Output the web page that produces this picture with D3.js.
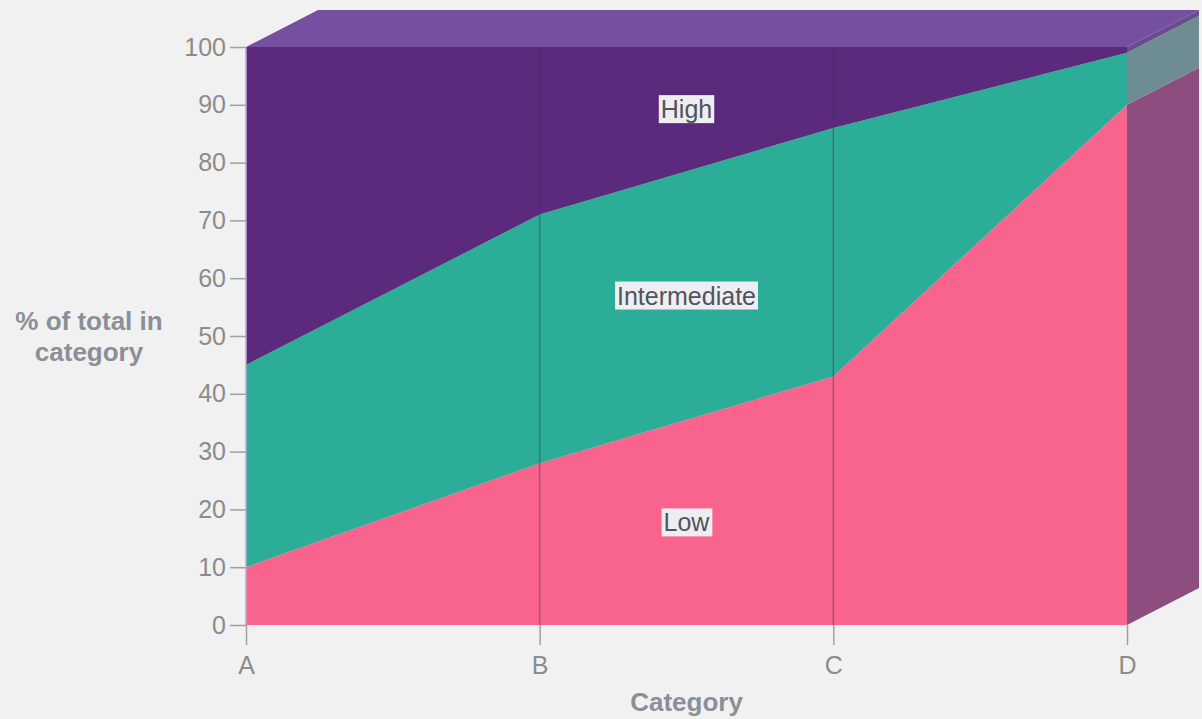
<!DOCTYPE html>
<html>
<head>
<meta charset="utf-8">
<script src="https://cdn.jsdelivr.net/npm/d3@7"></script>
<style>
  body { margin: 0; background: #f1f1f1; }
  svg { display: block; }
  text { font-family: "Liberation Sans", Arial, sans-serif; }
</style>
</head>
<body>
<svg id="chart" width="1202" height="719"></svg>
<script>
// Share of total in each category, stacked to 100%
const categories = ["A", "B", "C", "D"];
const seriesNames = ["Low", "Intermediate", "High"];
const low = [10, 28, 43, 90];
const intermediate = [35, 43, 43, 9];
const high = [55, 29, 14, 1];
const yTicks = [0, 10, 20, 30, 40, 50, 60, 70, 80, 90, 100];

const frontColor = { Low: "#f9648e", Intermediate: "#2bad97", High: "#5b2a7c" };
const sideColor = { Low: "#8e4d7f", Intermediate: "#6e8d93", High: "#6a4d8c" };
const topColor = "#7650a0";

const rows = categories.map((c, i) => ({
  category: c, Low: low[i], Intermediate: intermediate[i], High: high[i]
}));
const stacked = d3.stack().keys(seriesNames)(rows);

const svg = d3.select("#chart");
const x = d3.scalePoint().domain(categories).range([246, 1127]);
const y = d3.scaleLinear().domain([0, 100]).range([625, 47]);
const dx = 72, dy = -37; // depth offset of the 3D box

const xFirst = x(categories[0]), xLast = x(categories[categories.length - 1]);

// top face of the box
svg.append("polygon")
  .attr("points", [
    [xFirst, y(100)], [xLast, y(100)], [xLast + dx, y(100) + dy], [xFirst + dx, y(100) + dy]
  ].map(p => p.join(",")).join(" "))
  .attr("fill", topColor);

// right end face, one band per series
const lastIdx = categories.length - 1;
svg.append("g").selectAll("polygon")
  .data(stacked)
  .join("polygon")
  .attr("points", s => {
    const d = s[lastIdx];
    return [
      [xLast, y(d[0])], [xLast, y(d[1])], [xLast + dx, y(d[1]) + dy], [xLast + dx, y(d[0]) + dy]
    ].map(p => p.join(",")).join(" ");
  })
  .attr("fill", s => sideColor[s.key]);

// front stacked areas
const area = d3.area()
  .x(d => x(d.data.category))
  .y0(d => y(d[0]))
  .y1(d => y(d[1]));

svg.append("g").selectAll("path")
  .data(stacked)
  .join("path")
  .attr("d", area)
  .attr("fill", s => frontColor[s.key]);

// vertical category gridlines on the front face
svg.append("g").selectAll("line")
  .data(categories.slice(1, -1))
  .join("line")
  .attr("x1", d => x(d)).attr("x2", d => x(d))
  .attr("y1", y(0)).attr("y2", y(100))
  .attr("stroke", "rgba(70,50,90,0.45)")
  .attr("stroke-width", 1.5);

// light left edge of the front face
svg.append("line")
  .attr("x1", xFirst).attr("x2", xFirst)
  .attr("y1", y(0)).attr("y2", y(100))
  .attr("stroke", "#b7a9d6").attr("stroke-width", 1.5);

// y axis
const yAxis = svg.append("g")
  .attr("transform", `translate(${xFirst},0)`)
  .call(d3.axisLeft(y).tickValues(yTicks).tickSize(16).tickPadding(4));
yAxis.select(".domain").remove();
yAxis.selectAll(".tick line").attr("stroke", "#a0a0a0").attr("stroke-width", 1.5);
yAxis.selectAll(".tick text")
  .attr("fill", "#8c8c8c").attr("font-size", 25)
  .attr("font-family", "'Liberation Sans', Arial, sans-serif");

// x axis
const xAxis = svg.append("g")
  .attr("transform", `translate(0,${y(0)})`)
  .call(d3.axisBottom(x).tickSize(20).tickPadding(11));
xAxis.select(".domain").remove();
xAxis.selectAll(".tick line").attr("stroke", "#a0a0a0").attr("stroke-width", 1.5);
xAxis.selectAll(".tick text")
  .attr("fill", "#8c8c8c").attr("font-size", 25)
  .attr("font-family", "'Liberation Sans', Arial, sans-serif");

// axis titles
svg.append("text")
  .attr("x", (xFirst + xLast) / 2).attr("y", 711)
  .attr("text-anchor", "middle")
  .attr("font-size", 26).attr("font-weight", "bold")
  .attr("fill", "#8a8f9a")
  .text("Category");

const yTitle = svg.append("text")
  .attr("text-anchor", "middle")
  .attr("font-size", 26).attr("font-weight", "bold")
  .attr("fill", "#8a8f9a");
yTitle.append("tspan").attr("x", 89).attr("y", 330).text("% of total in");
yTitle.append("tspan").attr("x", 89).attr("y", 361).text("category");

// series labels, placed mid-band at the horizontal centre of the plot
const xMid = (xFirst + xLast) / 2;
const positions = categories.map(c => x(c));
function bandAt(s, px) {
  let i = d3.bisectRight(positions, px) - 1;
  i = Math.max(0, Math.min(positions.length - 2, i));
  const t = (px - positions[i]) / (positions[i + 1] - positions[i]);
  const lo = s[i][0] + t * (s[i + 1][0] - s[i][0]);
  const hi = s[i][1] + t * (s[i + 1][1] - s[i][1]);
  return (lo + hi) / 2;
}

const labels = svg.append("g").selectAll("g")
  .data(stacked)
  .join("g")
  .attr("transform", s => `translate(${xMid},${y(bandAt(s, xMid))})`);

labels.append("text")
  .attr("text-anchor", "middle")
  .attr("dy", "0.36em")
  .attr("font-size", 25)
  .attr("fill", "#50545c")
  .text(s => s.key);

labels.each(function () {
  const g = d3.select(this);
  const bb = g.select("text").node().getBBox();
  g.insert("rect", "text")
    .attr("x", bb.x - 2).attr("y", bb.y)
    .attr("width", bb.width + 4).attr("height", bb.height)
    .attr("fill", "#eeeef2");
});
</script>
</body>
</html>
